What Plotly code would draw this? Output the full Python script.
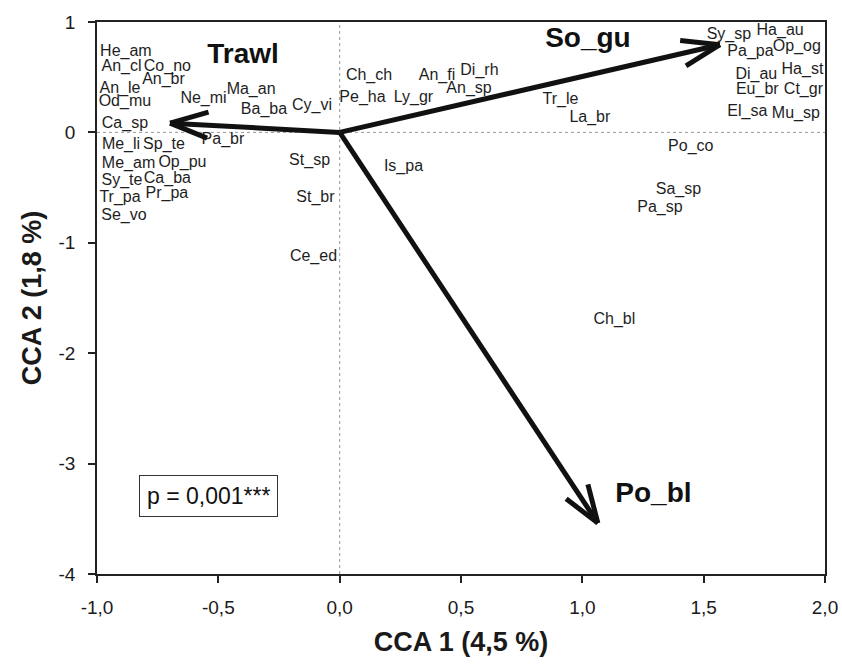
import math
import plotly.graph_objects as go

# ---------------- data ----------------
species = ["He_am", "An_cl", "Co_no", "An_le", "An_br", "Od_mu", "Ne_mi", "Ma_an", "Ba_ba",
           "Cy_vi", "Ca_sp", "Pa_br", "Me_li", "Sp_te", "Me_am", "Op_pu", "St_sp", "Sy_te",
           "Ca_ba", "Tr_pa", "Pr_pa", "St_br", "Se_vo", "Ce_ed", "Ch_ch", "Pe_ha", "Ly_gr",
           "An_fi", "Di_rh", "An_sp", "Tr_le", "La_br", "Is_pa", "Sy_sp", "Ha_au", "Pa_pa",
           "Op_og", "Di_au", "Ha_st", "Eu_br", "Ct_gr", "El_sa", "Mu_sp", "Po_co", "Sa_sp",
           "Pa_sp", "Ch_bl"]
cca1 = [-0.881, -0.899, -0.710, -0.905, -0.726, -0.885, -0.561, -0.365, -0.312,
        -0.114, -0.885, -0.481, -0.901, -0.724, -0.870, -0.648, -0.124, -0.897,
        -0.710, -0.905, -0.712, -0.100, -0.889, -0.108, 0.121, 0.094, 0.304,
        0.401, 0.576, 0.533, 0.910, 1.031, 0.263, 1.604, 1.815, 1.693,
        1.884, 1.717, 1.907, 1.721, 1.911, 1.680, 1.880, 1.447, 1.396,
        1.320, 1.132]
cca2 = [0.724, 0.595, 0.595, 0.395, 0.477, 0.271, 0.305, 0.386, 0.199,
        0.235, 0.078, -0.073, -0.112, -0.112, -0.285, -0.276, -0.255, -0.436,
        -0.421, -0.593, -0.557, -0.593, -0.756, -1.128, 0.507, 0.314, 0.314,
        0.507, 0.552, 0.395, 0.296, 0.132, -0.312, 0.885, 0.915, 0.724,
        0.773, 0.522, 0.568, 0.386, 0.386, 0.189, 0.169, -0.128, -0.520,
        -0.684, -1.699]

env_vars = ["Trawl", "So_gu", "Po_bl"]
env_cca1 = [-0.699, 1.567, 1.064]
env_cca2 = [0.084, 0.794, -3.539]
env_label_x = [-0.398, 1.023, 1.293]
env_label_y = [0.688, 0.840, -3.286]

x_ticks = [-1.0, -0.5, 0.0, 0.5, 1.0, 1.5, 2.0]
x_ticktext = ["-1,0", "-0,5", "0,0", "0,5", "1,0", "1,5", "2,0"]
y_ticks = [1, 0, -1, -2, -3, -4]
y_ticktext = ["1", "0", "-1", "-2", "-3", "-4"]

x_title = "CCA 1 (4,5 %)"
y_title = "CCA 2 (1,8 %)"
p_text = "p = 0,001***"
p_pos = (-0.54, -3.29)

# ---------------- layout geometry ----------------
W, H = 842, 668
ML, MR, MT, MB = 97, 17, 22, 94
XR = [-1, 2]
YR = [-4, 1]
pxx = (W - ML - MR) / (XR[1] - XR[0])
pxy = (H - MT - MB) / (YR[1] - YR[0])

FONT = "Arial, 'Liberation Sans', sans-serif"
INK = "#1a1a1a"

fig = go.Figure()

# species labels
fig.add_trace(go.Scatter(
    x=cca1, y=cca2, mode="text", text=species, textposition="middle center",
    textfont=dict(family=FONT, size=16, color="#1e1e1e"), hoverinfo="text",
    showlegend=False))

# environmental arrows (shaft + open arrowhead)
head_len = 40
head_ang = math.radians(19)
for name, ex, ey in zip(env_vars, env_cca1, env_cca2):
    dx, dy = ex * pxx, ey * pxy
    n = math.hypot(dx, dy)
    ux, uy = dx / n, dy / n
    xs = [0, ex, None]
    ys = [0, ey, None]
    for s in (1, -1):
        c, sn = math.cos(s * head_ang), math.sin(s * head_ang)
        rx, ry = ux * c - uy * sn, ux * sn + uy * c
        bx = ex - head_len * rx / pxx
        by = ey - head_len * ry / pxy
        xs += [bx, ex]
        ys += [by, ey]
        if s == 1:
            xs += [None]
            ys += [None]
    fig.add_trace(go.Scatter(x=xs, y=ys, mode="lines",
                             line=dict(color="#111111", width=5),
                             hoverinfo="skip", showlegend=False))

# arrow labels
fig.add_trace(go.Scatter(
    x=env_label_x, y=env_label_y, mode="text", text=env_vars,
    textposition="middle center",
    textfont=dict(family=FONT, size=28, color="#111111", weight="bold"),
    hoverinfo="skip", showlegend=False))

# dotted zero lines
fig.add_shape(type="line", xref="x", yref="y domain", x0=0, x1=0, y0=0, y1=1,
              line=dict(color="#9a9a9a", width=1, dash="dot"), layer="below")
fig.add_shape(type="line", xref="x domain", yref="y", x0=0, x1=1, y0=0, y1=0,
              line=dict(color="#9a9a9a", width=1, dash="dot"), layer="below")

# p-value box
fig.add_annotation(x=p_pos[0], y=p_pos[1], xref="x", yref="y", text=p_text,
                   showarrow=False, xanchor="center", yanchor="middle",
                   font=dict(family=FONT, size=23, color="#111111"),
                   bordercolor="#333333", borderwidth=1, borderpad=7,
                   bgcolor="white")

axis_common = dict(
    showgrid=False, zeroline=False, showline=True, linecolor="#222222",
    linewidth=1.5, mirror=True, ticks="outside", ticklen=7, tickwidth=1.5,
    tickcolor="#222222", tickfont=dict(family=FONT, size=19, color=INK))

fig.update_xaxes(range=XR, tickvals=x_ticks, ticktext=x_ticktext,
                 ticklabelstandoff=8,
                 title=dict(text=x_title, standoff=16,
                            font=dict(family=FONT, size=27, color=INK, weight="bold")),
                 **axis_common)
fig.update_yaxes(range=YR, tickvals=y_ticks, ticktext=y_ticktext,
                 ticklabelstandoff=9,
                 title=dict(text=y_title, standoff=9,
                            font=dict(family=FONT, size=27, color=INK, weight="bold")),
                 **axis_common)

fig.update_layout(
    width=W, height=H,
    margin=dict(l=ML, r=MR, t=MT, b=MB, autoexpand=False),
    plot_bgcolor="white", paper_bgcolor="white",
    font=dict(family=FONT, color=INK),
)

fig.write_html(
    "out.html",
    config={"displayModeBar": False},
    post_script="document.body.style.margin='0';document.body.style.overflow='hidden';",
)
